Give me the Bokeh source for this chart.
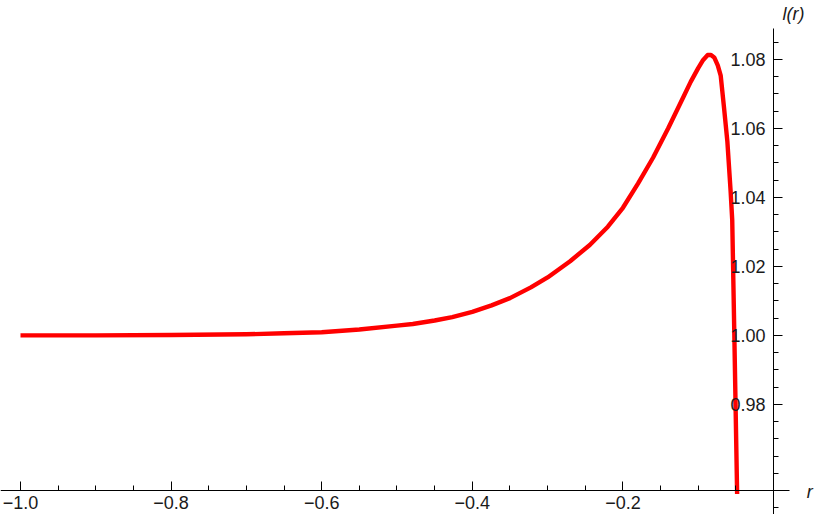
from bokeh.plotting import figure
from bokeh.models import FixedTicker, CustomJSTickFormatter, Label, Range1d
from bokeh.embed import file_html
from bokeh.resources import INLINE

# data
r_vals = [-1.0, -0.9, -0.8, -0.7, -0.65, -0.6, -0.55, -0.5, -0.479, -0.45, -0.4266,
          -0.4, -0.3744, -0.35, -0.3222, -0.3, -0.2701, -0.244, -0.22, -0.2, -0.18,
          -0.16, -0.14, -0.12, -0.11, -0.1, -0.094, -0.0874, -0.083, -0.0787,
          -0.074, -0.0701, -0.0656, -0.0613, -0.057, -0.0548, -0.052, -0.0483]
l_vals = [1.0000, 1.0000, 1.0001, 1.0003, 1.0006, 1.0009, 1.0017, 1.0028, 1.0033,
          1.0043, 1.0053, 1.0068, 1.0087, 1.0108, 1.0139, 1.0168, 1.0215, 1.0262,
          1.0315, 1.0370, 1.0440, 1.0515, 1.0600, 1.0690, 1.0735, 1.0775, 1.0797,
          1.0813, 1.0813, 1.0806, 1.0783, 1.0753, 1.0658, 1.0563, 1.0420, 1.0334,
          1.0000, 0.9540]

x_major = [-1.0, -0.8, -0.6, -0.4, -0.2]
x_minor = [round(-1.0 + 0.05 * i, 3) for i in range(20)]
y_major = [0.98, 1.00, 1.02, 1.04, 1.06, 1.08]
y_minor = [round(0.95 + 0.005 * i, 3) for i in range(28)]

x_axis_at = 0.955
y_axis_at = 0.0

W, H = 814, 514
p = figure(width=W, height=H, output_backend="svg", toolbar_location=None,
           x_range=Range1d(-1.02656, 0.05445), y_range=Range1d(0.94804, 1.09711),
           min_border=0, min_border_left=0, min_border_right=0,
           min_border_top=0, min_border_bottom=0)
p.outline_line_color = None
p.xgrid.grid_line_color = None
p.ygrid.grid_line_color = None
p.background_fill_color = "white"
p.border_fill_color = "white"

p.line(r_vals, l_vals, line_color="#FF0000", line_width=4.4, line_join="round")

font = "Liberation Sans"
for ax in (p.xaxis[0], p.yaxis[0]):
    ax.axis_line_color = "black"
    ax.major_tick_line_color = "black"
    ax.minor_tick_line_color = "black"
    ax.major_tick_in = 9
    ax.major_tick_out = 0
    ax.minor_tick_in = 5
    ax.minor_tick_out = 0
    ax.major_label_text_font = font
    ax.major_label_text_font_size = "18px"
    ax.major_label_text_color = "#1a1a1a"

xa = p.xaxis[0]
xa.fixed_location = x_axis_at
xa.ticker = FixedTicker(ticks=x_major, minor_ticks=x_minor)
xa.formatter = CustomJSTickFormatter(code="return (tick < 0 ? '\u2212' : '') + Math.abs(tick).toFixed(1);")
xa.major_label_standoff = 5
xa.bounds = (-1.03, 0.0212)

ya = p.yaxis[0]
ya.fixed_location = y_axis_at
ya.ticker = FixedTicker(ticks=y_major, minor_ticks=y_minor)
ya.formatter = CustomJSTickFormatter(code="return tick.toFixed(2);")
ya.major_label_standoff = 8
ya.bounds = (0.947, 1.089)

p.add_layout(Label(x=0.012, y=1.0933, text="l(r)", text_font=font,
                   text_font_style="italic", text_font_size="18px",
                   text_baseline="middle", text_align="left", text_color="#1a1a1a"))
p.add_layout(Label(x=0.044, y=0.9545, text="r", text_font=font,
                   text_font_style="italic", text_font_size="18px",
                   text_baseline="middle", text_align="left", text_color="#1a1a1a"))

open("out.html", "w").write(file_html(p, INLINE))
